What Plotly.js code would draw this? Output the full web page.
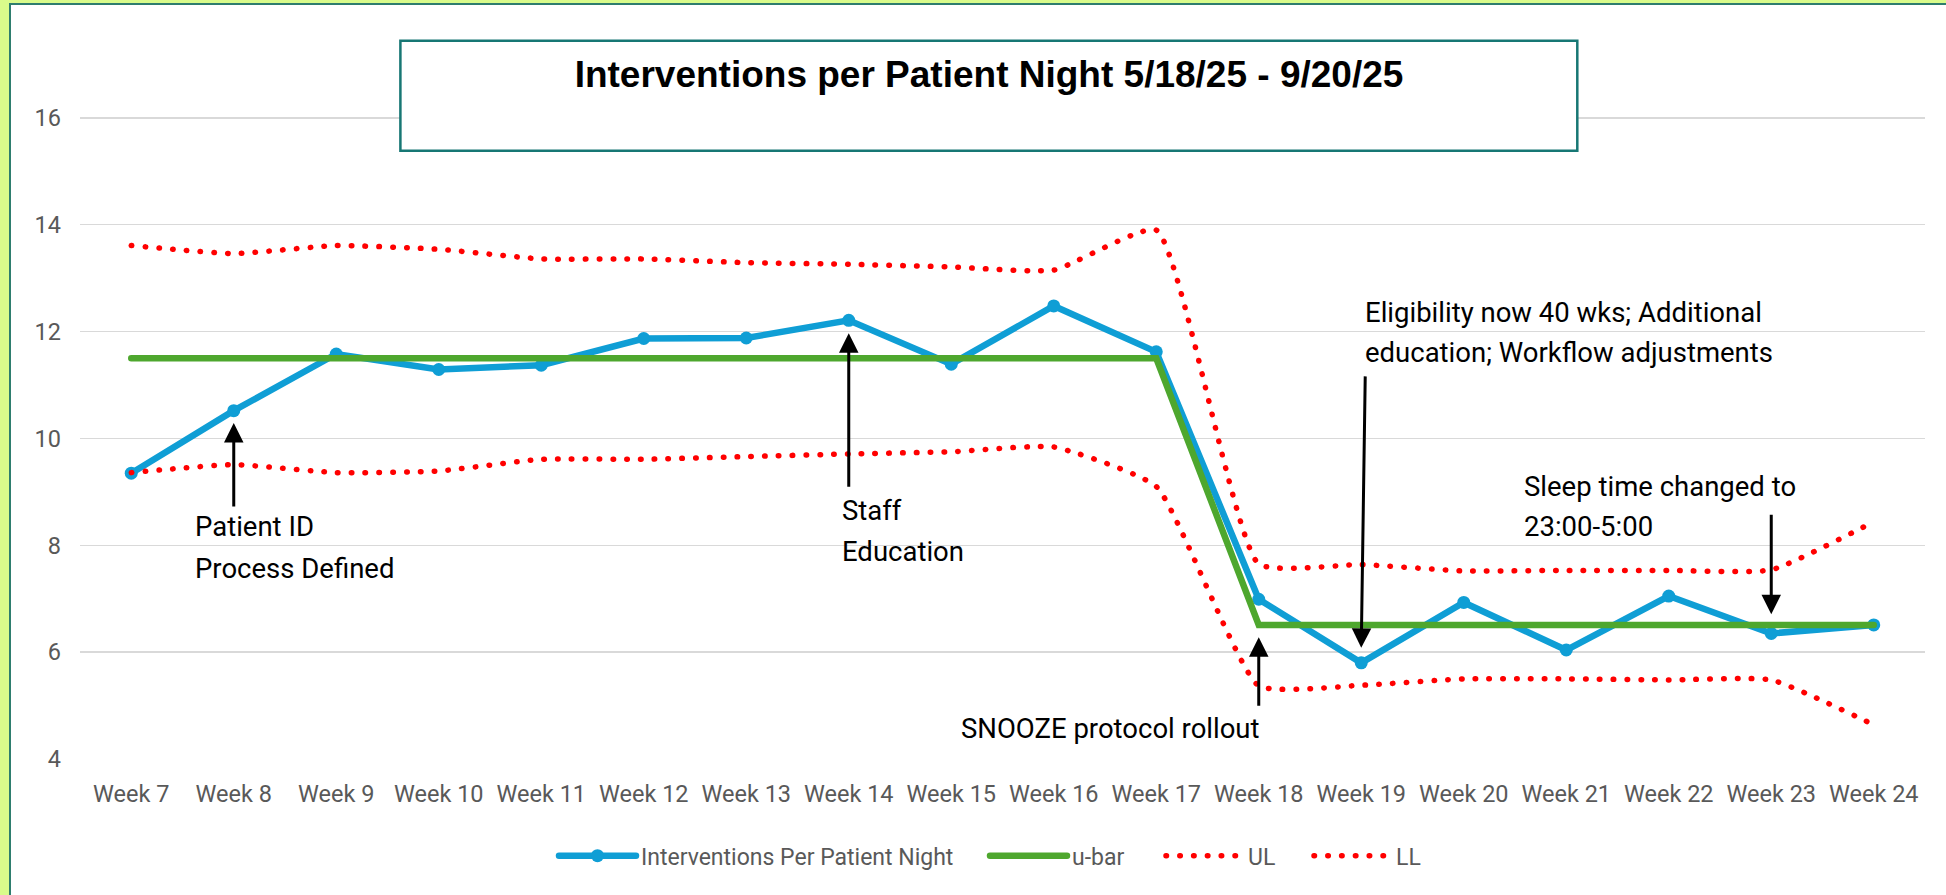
<!DOCTYPE html>
<html>
<head>
<meta charset="utf-8">
<script src="https://cdn.plot.ly/plotly-3.0.1.min.js"></script>
<style>
html,body{margin:0;padding:0;background:#ffffff;overflow:hidden;}
#chart{position:absolute;left:0;top:0;width:1946px;height:895px;}
.js-line{stroke-linecap:round !important;}
.frame{position:absolute;pointer-events:none;}
</style>
</head>
<body>
<div id="chart"></div>
<div class="frame" style="left:0;top:0;width:9px;height:895px;background:#d9fb8b;"></div>
<div class="frame" style="left:0;top:0;width:1946px;height:3px;background:#d9fb8b;"></div>
<div class="frame" style="left:9px;top:3px;width:2px;height:892px;background:#2e7d6e;"></div>
<div class="frame" style="left:9px;top:3px;width:1937px;height:1.5px;background:#2e7d6e;"></div>
<script>
// ---- data ----
const weeks = ["Week 7","Week 8","Week 9","Week 10","Week 11","Week 12","Week 13","Week 14","Week 15",
  "Week 16","Week 17","Week 18","Week 19","Week 20","Week 21","Week 22","Week 23","Week 24"];
const interventions = [9.35,10.52,11.58,11.29,11.37,11.87,11.88,12.21,11.39,12.48,11.62,6.99,5.80,6.93,6.04,7.05,6.35,6.51];
const ubar = [11.5,11.5,11.5,11.5,11.5,11.5,11.5,11.5,11.5,11.5,11.5,6.51,6.51,6.51,6.51,6.51,6.51,6.51];
const ul = [13.61,13.46,13.61,13.54,13.36,13.36,13.29,13.26,13.21,13.15,13.90,7.65,7.64,7.52,7.53,7.53,7.54,8.44];
const ll = [9.36,9.51,9.36,9.39,9.61,9.61,9.66,9.71,9.75,9.84,9.10,5.37,5.38,5.50,5.50,5.48,5.48,4.64];
const yTicks = [4,6,8,10,12,14,16];
const seriesNames = ["Interventions Per Patient Night","u-bar","UL","LL"];
const titleText = "Interventions per Patient Night 5/18/25 - 9/20/25";

// ---- layout helpers (pixel -> paper) ----
const W = 1946, H = 895;
const M = {l:80, r:21, t:11, b:136};
const PW = W - M.l - M.r, PH = H - M.t - M.b;
const px = x => (x - M.l) / PW;
const py = y => (H - M.b - y) / PH;

const tickFont = {family:"Roboto, 'Open Sans', sans-serif", size:23.5, color:"#595959"};
const legFont = {family:"Roboto, 'Open Sans', sans-serif", size:23, color:"#595959"};
const annFont = {family:"Roboto, 'Open Sans', sans-serif", size:27.5, color:"#000000"};

const dotDash = "0.5px,13.3px";
const traces = [
  {x:weeks, y:interventions, name:seriesNames[0], type:"scatter", mode:"lines+markers",
   line:{color:"#0F9ED5", width:6.5}, marker:{color:"#0F9ED5", size:13}, legend:"legend"},
  {x:weeks, y:ubar, name:seriesNames[1], type:"scatter", mode:"lines",
   line:{color:"#4EA72E", width:6.5}, legend:"legend2"},
  {x:weeks, y:ul, name:seriesNames[2], type:"scatter", mode:"lines",
   line:{color:"#FF0000", width:5.5, dash:dotDash, shape:"spline", smoothing:0.45}, legend:"legend3"},
  {x:weeks, y:ll, name:seriesNames[3], type:"scatter", mode:"lines",
   line:{color:"#FF0000", width:5.5, dash:dotDash, shape:"spline", smoothing:0.45}, legend:"legend4"}
];

function leg(xpx){
  return {orientation:"h", x:px(xpx), xanchor:"left", y:py(855.7), yanchor:"middle",
    font:legFont, itemwidth:77, bgcolor:"rgba(0,0,0,0)", borderwidth:0};
}

function txt(t, xl, ymid){
  return {text:t, xref:"paper", yref:"paper", x:px(xl), y:py(ymid), xanchor:"left", yanchor:"middle",
    showarrow:false, font:annFont, align:"left"};
}
function arrow(xi, yv, ax, ay){
  return {text:"", xref:"x", yref:"y", x:xi, y:yv, ax:ax, ay:ay, showarrow:true,
    arrowhead:2, arrowsize:1.3, arrowwidth:3, arrowcolor:"#000000", standoff:0, startstandoff:0};
}

const layout = {
  width:W, height:H, margin:M,
  paper_bgcolor:"#ffffff", plot_bgcolor:"#ffffff",
  title:{text:"<b>"+titleText+"</b>", font:{family:"'Liberation Sans', Arial, sans-serif", size:37, color:"#000000"},
    xref:"container", yref:"container", x:989/W, xanchor:"center", y:1-74.5/H, yanchor:"middle"},
  xaxis:{type:"category", range:[-0.5,17.5], showgrid:false, zeroline:false, showline:false, ticks:"",
    tickfont:tickFont, ticklabelstandoff:18, fixedrange:true},
  yaxis:{range:[4,18], tickvals:yTicks, showgrid:true, gridcolor:"#d9d9d9", gridwidth:1.5, zeroline:false,
    showline:false, ticks:"", tickfont:tickFont, ticklabelstandoff:18, fixedrange:true},
  legend:leg(554), legend2:leg(985), legend3:leg(1161), legend4:leg(1309),
  showlegend:true,
  shapes:[{type:"rect", xref:"paper", yref:"paper", x0:px(400.4), x1:px(1577.3), y0:py(150.7), y1:py(40.7),
    line:{color:"#177774", width:2.5}, fillcolor:"#ffffff", layer:"above"}],
  annotations:[
    txt("Patient ID", 192.7, 526.7),
    txt("Process Defined", 192.7, 568),
    txt("Staff", 839.7, 510.5),
    txt("Education", 839.7, 551.7),
    txt("SNOOZE protocol rollout", 959, 728.5),
    txt("Eligibility now 40 wks; Additional", 1362.6, 312),
    txt("education; Workflow adjustments", 1362.6, 352.9),
    txt("Sleep time changed to", 1521.7, 486.7),
    txt("23:00-5:00", 1521.7, 526.4),
    arrow(1, 10.29, 0, 85),
    arrow(7, 11.97, 0, 155),
    arrow(11, 6.28, 0, 70),
    arrow(12, 6.08, 4, -273),
    arrow(16, 6.71, 0, -101)
  ],
  hovermode:false
};

Plotly.newPlot("chart", traces, layout, {displayModeBar:false, staticPlot:true});
</script>
</body>
</html>
